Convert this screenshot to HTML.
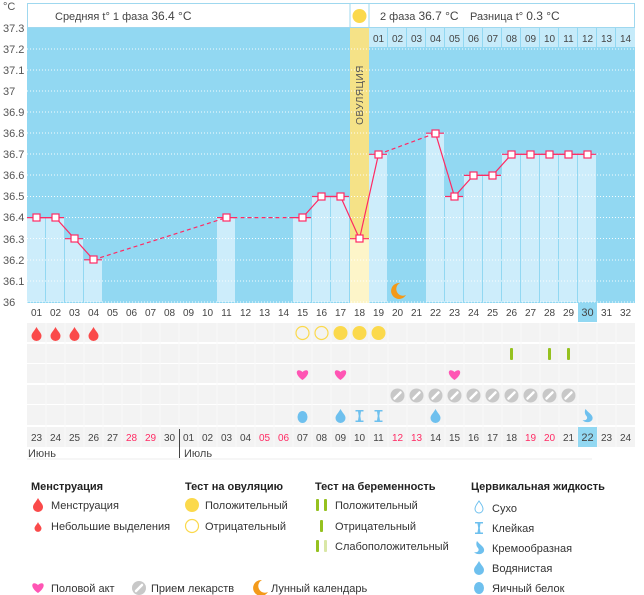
<!DOCTYPE html>
<html><head><meta charset="utf-8"><style>
body{margin:0;background:#fff;}
svg{display:block;font-family:"Liberation Sans",sans-serif;}
</style></head><body>
<svg width="644" height="595" viewBox="0 0 644 595" xmlns="http://www.w3.org/2000/svg">
<defs>
<path id="drop" d="M0,-7 C2,-3 5,-1 5,2 A5,5 0 0 1 -5,2 C-5,-1 -2,-3 0,-7Z"/>
<path id="heart" d="M0,5 C-9,-1 -6,-8 0,-3 C6,-8 9,-1 0,5Z"/>
<g id="pill"><circle r="7" fill="#c8c8c8"/><line x1="-3" y1="3" x2="3" y2="-3" stroke="#fff" stroke-width="2.5" stroke-linecap="round"/></g>
<path id="hour" d="M-4,-6 H4 V-4.5 H1.5 L0.8,0 L1.5,4.5 H4 V6 H-4 V4.5 H-1.5 L-0.8,0 L-1.5,-4.5 H-4Z"/>
<path id="moon" d="M3,-8 A8,8 0 1 0 9,4 A6,6 0 0 1 3,-8Z"/>
<path id="cream" d="M-2,-7 C1,-3 6,-1 5,3 C4,7 -3,7 -5,4 C-2,5 1,3 -1,0 C-3,-2 -3,-5 -2,-7Z"/>
<g id="rowbg"></g>
</defs>

<!-- header -->
<rect x="27.5" y="3.5" width="607" height="24" fill="#fff" stroke="#9fd8ef"/>
<line x1="350" y1="3" x2="350" y2="27" stroke="#9fd8ef"/>
<line x1="369" y1="3" x2="369" y2="27" stroke="#9fd8ef"/>
<circle cx="359.5" cy="16" r="7" fill="#fbd94c"/>
<text x="55" y="20" font-size="11" fill="#444">Средняя t° 1 фаза <tspan font-size="12">36.4 °C</tspan></text>
<text x="380" y="20" font-size="11" fill="#444">2 фаза <tspan font-size="12">36.7 °C</tspan></text>
<text x="470" y="20" font-size="11" fill="#444">Разница t° <tspan font-size="12">0.3 °C</tspan></text>

<!-- chart bg -->
<rect x="27" y="28" width="608" height="275" fill="#92d8f2"/>
<!-- ovulation column -->
<rect x="350" y="28" width="19" height="211" fill="#f5e287"/>
<rect x="350" y="239" width="19" height="64" fill="#fdf5c9"/>
<text transform="translate(363,95) rotate(-90)" font-size="10" fill="#555" text-anchor="middle" letter-spacing="0.5">ОВУЛЯЦИЯ</text>

<!-- top second numbering -->
<g fill="#c6ebfa">
<rect x="369" y="28" width="18" height="19"/><rect x="388" y="28" width="18" height="19"/><rect x="407" y="28" width="18" height="19"/><rect x="426" y="28" width="18" height="19"/><rect x="445" y="28" width="18" height="19"/><rect x="464" y="28" width="18" height="19"/><rect x="483" y="28" width="18" height="19"/><rect x="502" y="28" width="18" height="19"/><rect x="521" y="28" width="18" height="19"/><rect x="540" y="28" width="18" height="19"/><rect x="559" y="28" width="18" height="19"/><rect x="578" y="28" width="18" height="19"/><rect x="597" y="28" width="18" height="19"/><rect x="616" y="28" width="19" height="19"/>
</g>
<g font-size="10" fill="#444" text-anchor="middle">
<text x="378.5" y="42">01</text><text x="397.5" y="42">02</text><text x="416.5" y="42">03</text><text x="435.5" y="42">04</text><text x="454.5" y="42">05</text><text x="473.5" y="42">06</text><text x="492.5" y="42">07</text><text x="511.5" y="42">08</text><text x="530.5" y="42">09</text><text x="549.5" y="42">10</text><text x="568.5" y="42">11</text><text x="587.5" y="42">12</text><text x="606.5" y="42">13</text><text x="625.5" y="42">14</text>
</g>

<!-- bars -->
<g fill="#cdedfb">
<rect x="27" y="217.6" width="18" height="84.4"/>
<rect x="46" y="217.6" width="18" height="84.4"/>
<rect x="65" y="238.7" width="18" height="63.3"/>
<rect x="84" y="259.8" width="18" height="42.2"/>
<rect x="217" y="217.6" width="18" height="84.4"/>
<rect x="293" y="217.6" width="18" height="84.4"/>
<rect x="312" y="196.5" width="18" height="105.5"/>
<rect x="331" y="196.5" width="18" height="105.5"/>
<rect x="369" y="154.3" width="18" height="147.7"/>
<rect x="426" y="133.2" width="18" height="168.8"/>
<rect x="445" y="196.5" width="18" height="105.5"/>
<rect x="464" y="175.4" width="18" height="126.6"/>
<rect x="483" y="175.4" width="18" height="126.6"/>
<rect x="502" y="154.3" width="18" height="147.7"/>
<rect x="521" y="154.3" width="18" height="147.7"/>
<rect x="540" y="154.3" width="18" height="147.7"/>
<rect x="559" y="154.3" width="18" height="147.7"/>
<rect x="578" y="154.3" width="18" height="147.7"/>
</g>

<!-- grid -->
<g stroke="#fff" stroke-width="1" stroke-dasharray="1,2" opacity="0.9">
<line x1="27" y1="49" x2="635" y2="49"/><line x1="27" y1="70" x2="635" y2="70"/><line x1="27" y1="91" x2="635" y2="91"/><line x1="27" y1="112" x2="635" y2="112"/><line x1="27" y1="133" x2="635" y2="133"/><line x1="27" y1="154" x2="635" y2="154"/><line x1="27" y1="175" x2="635" y2="175"/><line x1="27" y1="196.5" x2="635" y2="196.5"/><line x1="27" y1="217.5" x2="635" y2="217.5"/><line x1="27" y1="238.5" x2="635" y2="238.5"/><line x1="27" y1="260" x2="635" y2="260"/><line x1="27" y1="281" x2="635" y2="281"/><line x1="27" y1="302" x2="635" y2="302"/>
</g>

<!-- y labels -->
<g font-size="11" fill="#555">
<text x="3" y="10">°C</text>
<text x="3" y="32">37.3</text><text x="3" y="53">37.2</text><text x="3" y="74">37.1</text><text x="3" y="95">37</text><text x="3" y="116">36.9</text><text x="3" y="137">36.8</text><text x="3" y="158">36.7</text><text x="3" y="179">36.6</text><text x="3" y="200">36.5</text><text x="3" y="221">36.4</text><text x="3" y="243">36.3</text><text x="3" y="264">36.2</text><text x="3" y="285">36.1</text><text x="3" y="306">36</text>
</g>

<!-- temperature line -->
<g stroke="#ff2a63" stroke-width="1.2" fill="none">
<g>
<line x1="27" y1="217.6" x2="64" y2="217.6"/><line x1="65" y1="238.7" x2="83" y2="238.7"/><line x1="84" y1="259.8" x2="102" y2="259.8"/>
<line x1="217" y1="217.6" x2="235" y2="217.6"/><line x1="293" y1="217.6" x2="311" y2="217.6"/><line x1="312" y1="196.5" x2="349" y2="196.5"/>
<line x1="350" y1="238.7" x2="369" y2="238.7"/><line x1="369" y1="154.3" x2="387" y2="154.3"/><line x1="426" y1="133.2" x2="444" y2="133.2"/>
<line x1="445" y1="196.5" x2="463" y2="196.5"/><line x1="464" y1="175.4" x2="501" y2="175.4"/><line x1="502" y1="154.3" x2="596" y2="154.3"/>
</g>
<polyline points="36.5,217.6 55.5,217.6 74.5,238.7 93.5,259.8"/>
<polyline points="302.5,217.6 321.5,196.5 340.5,196.5 359.5,238.7 378.5,154.3"/>
<polyline points="435.5,133.2 454.5,196.5 473.5,175.4 492.5,175.4 511.5,154.3 587.5,154.3"/>
<g stroke-dasharray="4,3">
<line x1="93.5" y1="259.8" x2="226.5" y2="217.6"/>
<line x1="226.5" y1="217.6" x2="302.5" y2="217.6"/>
<line x1="378.5" y1="154.3" x2="435.5" y2="133.2"/>
</g>
</g>
<g fill="#fff" stroke="#ff2a63" stroke-width="1.2">
<rect x="33" y="214" width="7" height="7"/><rect x="52" y="214" width="7" height="7"/><rect x="71" y="235" width="7" height="7"/><rect x="90" y="256" width="7" height="7"/>
<rect x="223" y="214" width="7" height="7"/><rect x="299" y="214" width="7" height="7"/><rect x="318" y="193" width="7" height="7"/><rect x="337" y="193" width="7" height="7"/>
<rect x="356" y="235" width="7" height="7"/><rect x="375" y="151" width="7" height="7"/><rect x="432" y="130" width="7" height="7"/><rect x="451" y="193" width="7" height="7"/>
<rect x="470" y="172" width="7" height="7"/><rect x="489" y="172" width="7" height="7"/><rect x="508" y="151" width="7" height="7"/><rect x="527" y="151" width="7" height="7"/>
<rect x="546" y="151" width="7" height="7"/><rect x="565" y="151" width="7" height="7"/><rect x="584" y="151" width="7" height="7"/>
</g>
<use href="#moon" x="397" y="291" fill="#f39a1a"/>

<!-- bottom day labels -->
<rect x="578" y="303" width="19" height="19" fill="#92d8f2"/>
<g font-size="10" fill="#444" text-anchor="middle">
<text x="36.5" y="316">01</text><text x="55.5" y="316">02</text><text x="74.5" y="316">03</text><text x="93.5" y="316">04</text><text x="112.5" y="316">05</text><text x="131.5" y="316">06</text><text x="150.5" y="316">07</text><text x="169.5" y="316">08</text><text x="188.5" y="316">09</text><text x="207.5" y="316">10</text><text x="226.5" y="316">11</text><text x="245.5" y="316">12</text><text x="264.5" y="316">13</text><text x="283.5" y="316">14</text><text x="302.5" y="316">15</text><text x="321.5" y="316">16</text><text x="340.5" y="316">17</text><text x="359.5" y="316">18</text><text x="378.5" y="316">19</text><text x="397.5" y="316">20</text><text x="416.5" y="316">21</text><text x="435.5" y="316">22</text><text x="454.5" y="316">23</text><text x="473.5" y="316">24</text><text x="492.5" y="316">25</text><text x="511.5" y="316">26</text><text x="530.5" y="316">27</text><text x="549.5" y="316">28</text><text x="568.5" y="316">29</text><text x="587.5" y="316" font-size="11">30</text><text x="606.5" y="316">31</text><text x="625.5" y="316">32</text>
</g>

<!-- icon rows background -->
<g fill="#f3f3f3">
<rect x="27" y="323" width="608" height="19"/>
<rect x="27" y="344" width="608" height="19"/>
<rect x="27" y="364" width="608" height="19"/>
<rect x="27" y="385" width="608" height="19"/>
<rect x="27" y="405" width="608" height="20"/>
<rect x="27" y="427" width="608" height="20"/>
</g>
<g stroke="#fafafa" stroke-width="1">
<line x1="46" y1="323" x2="46" y2="447"/><line x1="65" y1="323" x2="65" y2="447"/><line x1="84" y1="323" x2="84" y2="447"/><line x1="103" y1="323" x2="103" y2="447"/><line x1="122" y1="323" x2="122" y2="447"/><line x1="141" y1="323" x2="141" y2="447"/><line x1="160" y1="323" x2="160" y2="447"/><line x1="198" y1="323" x2="198" y2="447"/><line x1="217" y1="323" x2="217" y2="447"/><line x1="236" y1="323" x2="236" y2="447"/><line x1="255" y1="323" x2="255" y2="447"/><line x1="274" y1="323" x2="274" y2="447"/><line x1="293" y1="323" x2="293" y2="447"/><line x1="312" y1="323" x2="312" y2="447"/><line x1="331" y1="323" x2="331" y2="447"/><line x1="350" y1="323" x2="350" y2="447"/><line x1="369" y1="323" x2="369" y2="447"/><line x1="388" y1="323" x2="388" y2="447"/><line x1="407" y1="323" x2="407" y2="447"/><line x1="426" y1="323" x2="426" y2="447"/><line x1="445" y1="323" x2="445" y2="447"/><line x1="464" y1="323" x2="464" y2="447"/><line x1="483" y1="323" x2="483" y2="447"/><line x1="502" y1="323" x2="502" y2="447"/><line x1="521" y1="323" x2="521" y2="447"/><line x1="540" y1="323" x2="540" y2="447"/><line x1="559" y1="323" x2="559" y2="447"/><line x1="578" y1="323" x2="578" y2="447"/><line x1="597" y1="323" x2="597" y2="447"/><line x1="616" y1="323" x2="616" y2="447"/><line x1="179" y1="323" x2="179" y2="427"/>
</g>

<!-- row1 -->
<g fill="#fa4a4a">
<use href="#drop" x="36.5" y="334"/><use href="#drop" x="55.5" y="334"/><use href="#drop" x="74.5" y="334"/><use href="#drop" x="93.5" y="334"/>
</g>
<g fill="none" stroke="#fbd94c" stroke-width="1.2"><circle cx="302.5" cy="333" r="6.5"/><circle cx="321.5" cy="333" r="6.5"/></g>
<g fill="#fbd94c"><circle cx="340.5" cy="333" r="7"/><circle cx="359.5" cy="333" r="7"/><circle cx="378.5" cy="333" r="7"/></g>
<!-- row2 -->
<g fill="#95c11f"><rect x="510" y="348" width="3" height="12" rx="1"/><rect x="548" y="348" width="3" height="12" rx="1"/><rect x="567" y="348" width="3" height="12" rx="1"/></g>
<!-- row3 -->
<g fill="#ff55b4"><use href="#heart" x="302.5" y="375"/><use href="#heart" x="340.5" y="375"/><use href="#heart" x="454.5" y="375"/></g>
<!-- row4 -->
<use href="#pill" x="397.5" y="395.5"/><use href="#pill" x="416.5" y="395.5"/><use href="#pill" x="435.5" y="395.5"/><use href="#pill" x="454.5" y="395.5"/><use href="#pill" x="473.5" y="395.5"/><use href="#pill" x="492.5" y="395.5"/><use href="#pill" x="511.5" y="395.5"/><use href="#pill" x="530.5" y="395.5"/><use href="#pill" x="549.5" y="395.5"/><use href="#pill" x="568.5" y="395.5"/>
<!-- row5 -->
<g fill="#6ec0ee">
<ellipse cx="302.5" cy="417" rx="5" ry="6"/>
<use href="#drop" x="340.5" y="416"/><use href="#hour" x="359.5" y="416"/><use href="#hour" x="378.5" y="416"/><use href="#drop" x="435.5" y="416"/><use href="#cream" x="587.5" y="416"/>
</g>

<!-- bottom dates -->
<rect x="578" y="427" width="19" height="20" fill="#92d8f2"/>
<g font-size="10" fill="#444" text-anchor="middle">
<text x="36.5" y="441">23</text><text x="55.5" y="441">24</text><text x="74.5" y="441">25</text><text x="93.5" y="441">26</text><text x="112.5" y="441">27</text><text x="131.5" y="441" fill="#ff2a63">28</text><text x="150.5" y="441" fill="#ff2a63">29</text><text x="169.5" y="441">30</text><text x="188.5" y="441">01</text><text x="207.5" y="441">02</text><text x="226.5" y="441">03</text><text x="245.5" y="441">04</text><text x="264.5" y="441" fill="#ff2a63">05</text><text x="283.5" y="441" fill="#ff2a63">06</text><text x="302.5" y="441">07</text><text x="321.5" y="441">08</text><text x="340.5" y="441">09</text><text x="359.5" y="441">10</text><text x="378.5" y="441">11</text><text x="397.5" y="441" fill="#ff2a63">12</text><text x="416.5" y="441" fill="#ff2a63">13</text><text x="435.5" y="441">14</text><text x="454.5" y="441">15</text><text x="473.5" y="441">16</text><text x="492.5" y="441">17</text><text x="511.5" y="441">18</text><text x="530.5" y="441" fill="#ff2a63">19</text><text x="549.5" y="441" fill="#ff2a63">20</text><text x="568.5" y="441">21</text><text x="587.5" y="441" font-size="11">22</text><text x="606.5" y="441">23</text><text x="625.5" y="441">24</text>
</g>
<line x1="179.5" y1="429" x2="179.5" y2="458" stroke="#444"/>
<text x="28" y="457" font-size="11" fill="#444">Июнь</text>
<text x="184" y="457" font-size="11" fill="#444">Июль</text>
<line x1="27" y1="459" x2="297" y2="459" stroke="#eee"/>
<line x1="297" y1="459" x2="592" y2="459" stroke="#eee"/>

<!-- legend -->
<g font-size="11" fill="#222" font-weight="bold">
<text x="31" y="490">Менструация</text>
<text x="185" y="490">Тест на овуляцию</text>
<text x="315" y="490">Тест на беременность</text>
<text x="471" y="490">Цервикальная жидкость</text>
</g>
<g font-size="11" fill="#333">
<use href="#drop" x="38" y="505" fill="#fa4a4a"/><text x="51" y="509">Менструация</text>
<use href="#drop" x="38" y="527" fill="#fa4a4a" transform="translate(38,527) scale(0.7) translate(-38,-527)"/><text x="51" y="530">Небольшие выделения</text>
<circle cx="192" cy="505" r="7" fill="#fbd94c"/><text x="205" y="509">Положительный</text>
<circle cx="192" cy="526" r="6.5" fill="none" stroke="#fbd94c" stroke-width="1.2"/><text x="205" y="530">Отрицательный</text>
<rect x="316" y="499" width="3" height="12" rx="1" fill="#95c11f"/><rect x="324" y="499" width="3" height="12" rx="1" fill="#95c11f"/><text x="335" y="509">Положительный</text>
<rect x="320" y="520" width="3" height="12" rx="1" fill="#95c11f"/><text x="335" y="530">Отрицательный</text>
<rect x="316" y="540" width="3" height="12" rx="1" fill="#95c11f"/><rect x="324" y="540" width="3" height="12" rx="1" fill="#d9e7a6"/><text x="335" y="550">Слабоположительный</text>
<path d="M479,501 C481,504 483,506 483,509 A4,4 0 0 1 475,509 C475,506 477,504 479,501Z" fill="none" stroke="#6ec0ee"/><text x="492" y="512">Сухо</text>
<use href="#hour" x="479" y="528" fill="#6ec0ee"/><text x="492" y="532">Клейкая</text>
<use href="#cream" x="479" y="548" fill="#6ec0ee"/><text x="492" y="552">Кремообразная</text>
<use href="#drop" x="479" y="568" fill="#6ec0ee"/><text x="492" y="572">Водянистая</text>
<ellipse cx="479" cy="588" rx="5" ry="6" fill="#6ec0ee"/><text x="492" y="592">Яичный белок</text>
<use href="#heart" x="38" y="588" fill="#ff55b4"/><text x="51" y="592">Половой акт</text>
<use href="#pill" x="139" y="588"/><text x="151" y="592">Прием лекарств</text>
<use href="#moon" x="259" y="588" fill="#f39a1a"/><text x="271" y="592">Лунный календарь</text>
</g>
</svg>
</body></html>
